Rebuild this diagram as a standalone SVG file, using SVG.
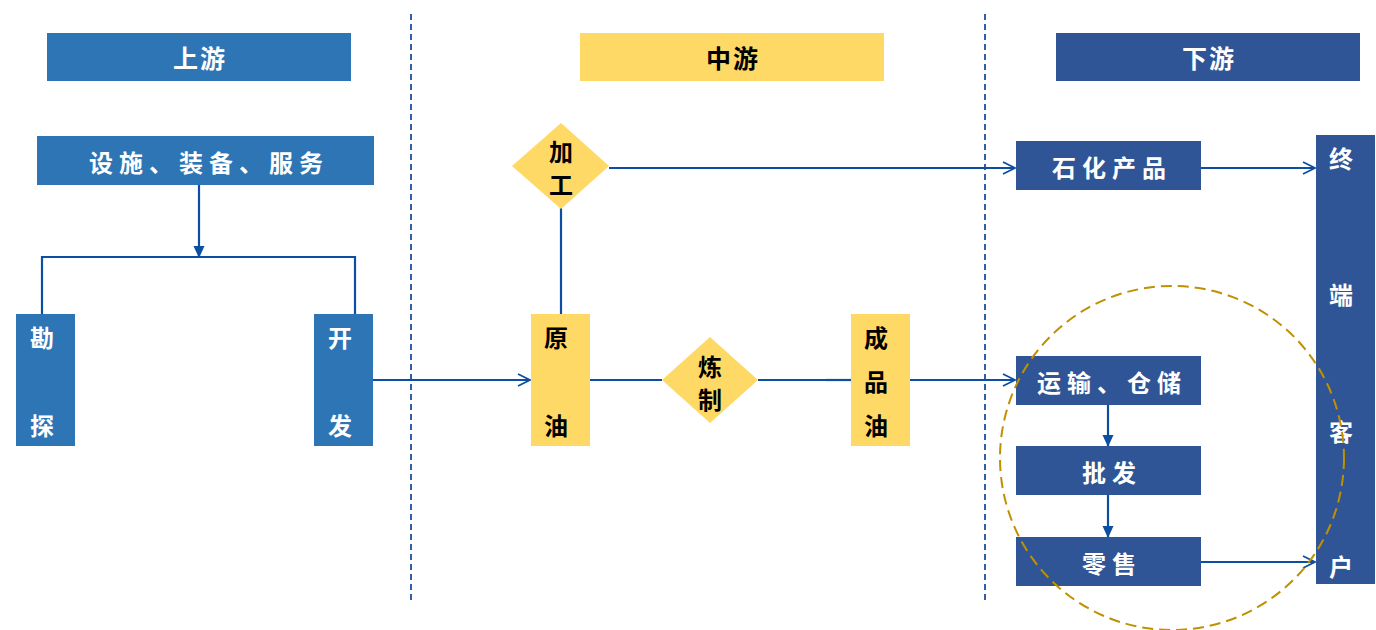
<svg xmlns="http://www.w3.org/2000/svg" width="1376" height="630" viewBox="0 0 1376 630">
<defs>
<style>
.t{font-family:"Noto Sans CJK SC","Noto Sans",sans-serif;font-weight:bold;text-anchor:middle;dominant-baseline:central}
.w{fill:#fff}
.k{fill:#000}
.up{fill:#2E75B6}
.mid{fill:#FFD966}
.dn{fill:#2F5597}
.ln{stroke:#0B4EA2;stroke-width:2.2;fill:none}
.dv{stroke:#2E5FA8;stroke-width:2;stroke-dasharray:6,4;fill:none}
</style>
<marker id="open" viewBox="0 0 14 14" refX="13" refY="7" markerWidth="14" markerHeight="14" markerUnits="userSpaceOnUse" orient="auto">
<path d="M1,1 L13,7 L1,13" fill="none" stroke="#0B4EA2" stroke-width="1.8"/>
</marker>
<marker id="fill" viewBox="0 0 12 12" refX="11" refY="6" markerWidth="12" markerHeight="12" markerUnits="userSpaceOnUse" orient="auto">
<path d="M0,0.5 L12,6 L0,11.5 Z" fill="#0B4EA2"/>
</marker>
</defs>
<rect width="1376" height="630" fill="#fff"/>
<g id="dividers">
<line class="dv" x1="411" y1="14" x2="411" y2="600"/>
<line class="dv" x1="985" y1="14" x2="985" y2="600"/>
</g>
<g id="hdr-up"><rect class="up" x="47" y="33" width="304" height="48"/><text class="t w" x="200" y="57" font-size="25" letter-spacing="2">上游</text></g>
<g id="hdr-mid"><rect class="mid" x="580" y="33" width="304" height="48"/><text class="t k" x="733" y="57" font-size="25" letter-spacing="2">中游</text></g>
<g id="hdr-dn"><rect class="dn" x="1056" y="33" width="304" height="48"/><text class="t w" x="1209" y="57" font-size="25" letter-spacing="2">下游</text></g>

<g id="connectors">
<line class="ln" x1="199" y1="185" x2="199" y2="257" marker-end="url(#fill)"/>
<polyline class="ln" points="42,314 42,257 355,257 355,314"/>
<line class="ln" x1="373" y1="380" x2="530" y2="380" marker-end="url(#open)"/>
<line class="ln" x1="561" y1="208" x2="561" y2="314"/>
<line class="ln" x1="609" y1="168" x2="1015" y2="168" marker-end="url(#open)"/>
<line class="ln" x1="590" y1="380" x2="662" y2="380" stroke-width="2.8"/>
<line class="ln" x1="758" y1="380" x2="826" y2="380" stroke-width="2.8"/>
<line class="ln" x1="826" y1="380" x2="851" y2="380"/>
<line class="ln" x1="910" y1="380" x2="1015" y2="380" marker-end="url(#open)"/>
<line class="ln" x1="1201" y1="168" x2="1315" y2="168" marker-end="url(#open)"/>
<line class="ln" x1="1108" y1="405" x2="1108" y2="446" marker-end="url(#fill)"/>
<line class="ln" x1="1108" y1="495" x2="1108" y2="537" marker-end="url(#fill)"/>
<line class="ln" x1="1201" y1="562" x2="1315" y2="562" marker-end="url(#open)"/>
</g>

<g id="n-facilities"><rect class="up" x="37" y="136" width="337" height="49"/><text class="t w" x="209" y="161" font-size="24" letter-spacing="6">设施、装备、服务</text></g>
<g id="n-explore"><rect class="up" x="16" y="314" width="59" height="132"/><text class="t w" x="42" y="336" font-size="24">勘</text><text class="t w" x="42" y="424" font-size="24">探</text></g>
<g id="n-develop"><rect class="up" x="314" y="314" width="59" height="132"/><text class="t w" x="340" y="336" font-size="24">开</text><text class="t w" x="340" y="424" font-size="24">发</text></g>

<g id="n-crude"><rect class="mid" x="531" y="314" width="59" height="132"/><text class="t k" x="556" y="336" font-size="24">原</text><text class="t k" x="556" y="424" font-size="24">油</text></g>
<g id="n-process"><polygon class="mid" points="561,123 609,166 561,209 512,166"/><text class="t k" x="561" y="150" font-size="24">加</text><text class="t k" x="561" y="183" font-size="24">工</text></g>
<g id="n-refine"><polygon class="mid" points="710,337 758,380 710,423 662,380"/><text class="t k" x="710" y="365" font-size="24">炼</text><text class="t k" x="710" y="398" font-size="24">制</text></g>
<g id="n-product"><rect class="mid" x="851" y="314" width="59" height="132"/><text class="t k" x="876" y="336" font-size="24">成</text><text class="t k" x="876" y="380" font-size="24">品</text><text class="t k" x="876" y="424" font-size="24">油</text></g>

<g id="n-petrochem"><rect class="dn" x="1016" y="141" width="185" height="49"/><text class="t w" x="1112" y="166" font-size="24" letter-spacing="6">石化产品</text></g>
<g id="n-transport"><rect class="dn" x="1016" y="356" width="185" height="49"/><text class="t w" x="1112" y="381" font-size="24" letter-spacing="6">运输、仓储</text></g>
<g id="n-wholesale"><rect class="dn" x="1016" y="446" width="185" height="49"/><text class="t w" x="1112" y="471" font-size="24" letter-spacing="6">批发</text></g>
<g id="n-retail"><rect class="dn" x="1016" y="537" width="185" height="49"/><text class="t w" x="1112" y="562" font-size="24" letter-spacing="6">零售</text></g>
<g id="n-customer"><rect class="dn" x="1316" y="135" width="59" height="449"/><text class="t w" x="1341" y="157" font-size="24">终</text><text class="t w" x="1341" y="293" font-size="24">端</text><text class="t w" x="1341" y="430" font-size="24">客</text><text class="t w" x="1341" y="565" font-size="24">户</text></g>

<g id="highlight"><circle cx="1172" cy="458" r="172" fill="none" stroke="#BF9000" stroke-width="2" stroke-dasharray="11,6"/></g>
</svg>
